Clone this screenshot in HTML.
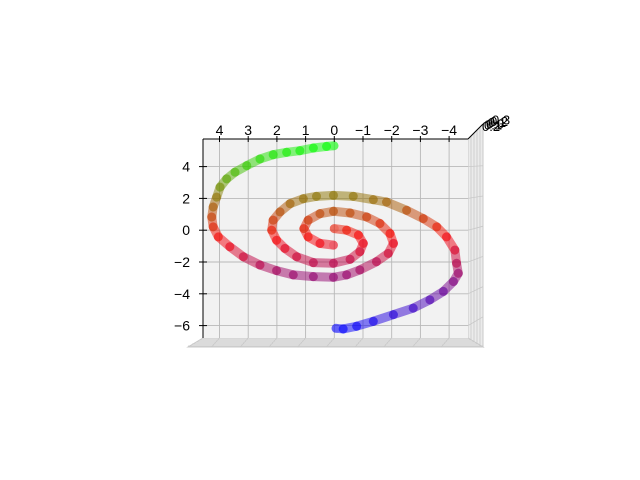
<!DOCTYPE html>
<html><head><meta charset="utf-8"><style>
html,body{margin:0;padding:0;background:#fff}
svg{display:block;font-family:"Liberation Sans","DejaVu Sans",sans-serif}
</style></head><body>
<svg id="chart" width="640" height="480" viewBox="0 0 640 480">
<g id="pane"></g>
<g id="grid"></g>
<g id="marks"></g>
<g id="axes"></g>
</svg>
<script>
const xTicks = [4,3,2,1,0,-1,-2,-3,-4];
const yTicks = [4,2,0,-2,-4,-6];
const armAx = [0,-0.43,-0.84,-1.01,-0.89,-0.55,0.03,0.73,1.31,1.72,2.01,2.18,2.13,1.89,1.54,1.08,0.62,0.03,-0.66,-1.36,-1.82,-2.52,-3.10,-3.57,-3.91,-4.20,-4.26,-4.32,-4.15,-3.80,-3.33,-2.75,-2.06,-1.36,-0.78,-0.31,-0.06];
const armAy = [0.10,0,-0.31,-0.83,-1.35,-1.83,-2.08,-2.04,-1.67,-1.15,-0.63,0,0.63,1.15,1.67,1.98,2.13,2.19,2.13,1.92,1.77,1.25,0.73,0.21,-0.42,-1.25,-2.08,-2.71,-3.23,-3.85,-4.38,-4.90,-5.31,-5.73,-6.04,-6.21,-6.17];
const armBx = [0.03,0.50,0.91,1.06,0.91,0.50,0.03,-0.55,-1.13,-1.59,-1.94,-2.06,-1.88,-1.47,-0.89,-0.43,0.03,0.73,1.43,2.01,2.59,3.17,3.64,4.04,4.22,4.27,4.22,4.10,3.98,3.75,3.46,3.05,2.59,2.13,1.66,1.20,0.73,0.27,0.01];
const armBy = [-0.94,-0.83,-0.42,0.10,0.63,1.04,1.19,1.08,0.83,0.42,-0.21,-0.83,-1.46,-1.98,-2.50,-2.81,-2.96,-2.92,-2.81,-2.54,-2.19,-1.67,-1.04,-0.42,0.21,0.83,1.46,2.08,2.71,3.23,3.65,4.06,4.48,4.75,4.90,5.00,5.17,5.27,5.31];

const NS='http://www.w3.org/2000/svg';
function mk(tag, attrs, parent){const e=document.createElementNS(NS,tag);for(const k in attrs)e.setAttribute(k,attrs[k]);parent.appendChild(e);return e;}
const X = v => 334.3 - 28.7*v;
const Y = v => 230.2 - 15.9*v;
const L=203, R=468, T=139, B=338;

const pane=document.getElementById('pane'), grid=document.getElementById('grid'), marks=document.getElementById('marks'), axes=document.getElementById('axes');
mk('polygon',{points:`${R},${T} 483,124 483,347 ${R},${B}`,fill:'#ebebeb',stroke:'#c8c8c8'},pane);
mk('polygon',{points:`${L},${B} ${R},${B} 483,347 188,347`,fill:'#e6e6e6',stroke:'#c8c8c8'},pane);
mk('rect',{x:L,y:T,width:R-L,height:B-T,fill:'#f2f2f2'},pane);
for(let i=0;i<4;i++){mk('line',{x1:R+3+i*3,y1:T-3-i*3,x2:R+3+i*3,y2:B+2+i*2,stroke:'#c8c8c8','stroke-width':0.8},pane);}
for(let i=0;i<4;i++){mk('line',{x1:L-3-i*4,y1:B+2+i*2,x2:R+3+i*4,y2:B+2+i*2,stroke:'#c8c8c8','stroke-width':0.8},pane);}

xTicks.forEach(t=>{
  const l=mk('line',{x1:X(t),y1:T,x2:X(t),y2:B,stroke:'#b8b8b8','stroke-width':0.9},grid);
  
  
  mk('line',{x1:X(t),y1:B,x2:X(t)-8,y2:347,stroke:'#c8c8c8','stroke-width':0.8},grid);
});
yTicks.forEach(t=>{
  const l=mk('line',{x1:L,y1:Y(t),x2:R,y2:Y(t),stroke:'#b8b8b8','stroke-width':0.9},grid);
  
  
  mk('line',{x1:R,y1:Y(t),x2:483,y2:Y(t)-(Y(t)-230)*0.05-4,stroke:'#c8c8c8','stroke-width':0.8},grid);
});

const ymin=-6.21, ymax=5.31;
function col(y){
  const t=(y-ymin)/(ymax-ymin);
  let r,g,b;
  if(t<0.5){r=2*t;g=0;b=1-2*t;} else {r=2-2*t;g=2*t-1;b=0;}
  return `rgb(${Math.round(r*255)},${Math.round(g*255)},${Math.round(b*255)})`;
}
function drawArm(xs,ys,name){
  const g=mk('g',{},marks);
  
  
  for(let i=0;i<xs.length-1;i++){
    const s=mk('line',{x1:X(xs[i]),y1:Y(ys[i]),x2:X(xs[i+1]),y2:Y(ys[i+1]),stroke:col((ys[i]+ys[i+1])/2),'stroke-width':9,'stroke-linecap':'round','stroke-opacity':0.5},g);
    
    
  }
  for(let i=0;i<xs.length;i++){
    const c=mk('circle',{cx:X(xs[i]),cy:Y(ys[i]),r:4.5,fill:col(ys[i]),'fill-opacity':0.2},g);
    
    
  }
}
drawArm(armAx,armAy,'spiral-arm-a');
drawArm(armBx,armBy,'spiral-arm-b');

mk('line',{x1:L,y1:T,x2:R,y2:T,stroke:'#000','stroke-width':1},axes);
mk('line',{x1:L,y1:T,x2:L,y2:B,stroke:'#000','stroke-width':1},axes);
mk('line',{x1:R,y1:T,x2:483,y2:124,stroke:'#000','stroke-width':1},axes);
xTicks.forEach(t=>{
  mk('line',{x1:X(t),y1:T-3,x2:X(t),y2:T+3,stroke:'#000','stroke-width':1},axes);
  const tx=mk('text',{x:X(t),y:135,'font-size':14,'text-anchor':'middle',fill:'#000'},axes);
  tx.textContent=t<0?'\u2212'+(-t):String(t);
  
  
});
yTicks.forEach(t=>{
  mk('line',{x1:L-4,y1:Y(t),x2:L+4,y2:Y(t),stroke:'#000','stroke-width':1},axes);
  const tx=mk('text',{x:190,y:Y(t)+5,'font-size':14,'text-anchor':'end',fill:'#000'},axes);
  tx.textContent=t<0?'\u2212'+(-t):String(t);
  
  
});
const zLabels=['0.2','0.1','0.0','0.1','0.2','0.3'];
zLabels.forEach((s,i)=>{
  const tx=mk('text',{x:482+i*2,y:131-i*1.3,'font-size':13,fill:'#000'},axes);
  tx.textContent=s;
  
  
});
</script>
</body></html>
